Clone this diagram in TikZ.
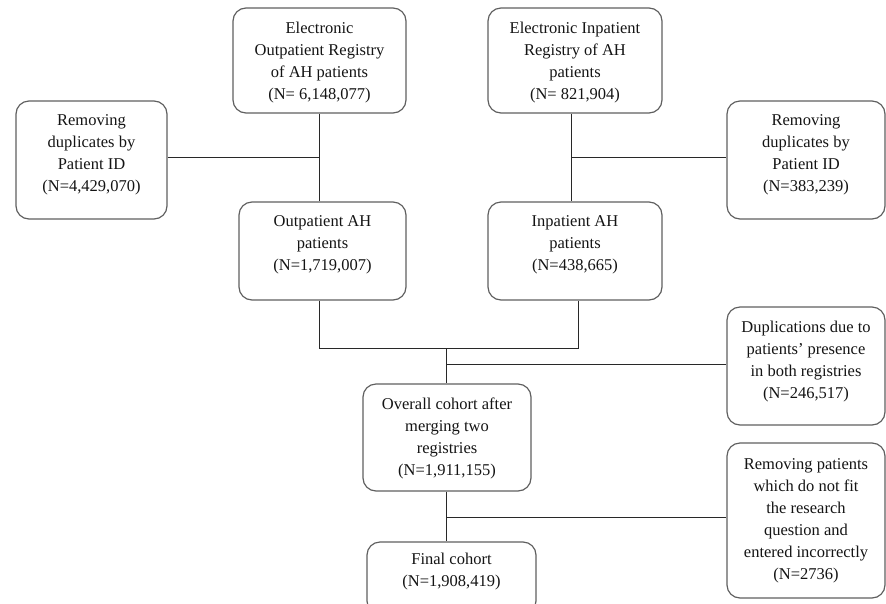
\documentclass[tikz,border=0pt]{standalone}
\usepackage{fontspec}
\setmainfont{Liberation Serif}
\definecolor{boxgray}{RGB}{96,96,96}
\definecolor{linec}{RGB}{40,40,40}
\definecolor{textc}{RGB}{20,20,20}
\begin{document}
\begin{tikzpicture}[x=1pt,y=-1pt,
 box/.style={draw=boxgray, line width=1.2pt, rounded corners=13pt, fill=white, inner sep=0},
 txt/.style={align=center, inner sep=0, anchor=north, font=\fontsize{16.5}{22}\selectfont, text=textc},
 conn/.style={draw=linec, line width=1pt}]
\useasboundingbox (0,0) rectangle (886,603);
\clip (0,0) rectangle (886,603);
% boxes
\node[box, minimum width=173pt, minimum height=105pt] (A) at (319.5,60.5) {};
\node[box, minimum width=151pt, minimum height=118pt] (B) at (91.5,160) {};
\node[box, minimum width=167pt, minimum height=98pt] (C) at (322.5,251) {};
\node[box, minimum width=174pt, minimum height=105pt] (D) at (575,60.5) {};
\node[box, minimum width=158pt, minimum height=118pt] (E) at (806,160) {};
\node[box, minimum width=174pt, minimum height=98pt] (F) at (575,251) {};
\node[box, minimum width=158pt, minimum height=118pt] (G) at (806,366) {};
\node[box, minimum width=168pt, minimum height=107pt] (H) at (447,437.5) {};
\node[box, minimum width=169pt, minimum height=72pt] (I) at (451.5,578) {};
\node[box, minimum width=158pt, minimum height=155pt] (J) at (806,520.5) {};
% texts
\node[txt] (tA) at ([yshift=-14pt]A.north) {Electronic\\Outpatient Registry\\of AH patients\\(N= 6,148,077)};
\node[txt] (tB) at ([yshift=-14pt]B.north) {Removing\\duplicates by\\Patient ID\\(N=4,429,070)};
\node[txt] (tC) at ([yshift=-14pt]C.north) {Outpatient AH\\patients\\(N=1,719,007)};
\node[txt] (tD) at ([yshift=-14pt]D.north) {Electronic Inpatient\\Registry of AH\\patients\\(N= 821,904)};
\node[txt] (tE) at ([yshift=-14pt]E.north) {Removing\\duplicates by\\Patient ID\\(N=383,239)};
\node[txt] (tF) at ([yshift=-14pt]F.north) {Inpatient AH\\patients\\(N=438,665)};
\node[txt] (tG) at ([yshift=-14pt]G.north) {Duplications due to\\patients’ presence\\in both registries\\(N=246,517)};
\node[txt] (tH) at ([yshift=-14pt]H.north) {Overall cohort after\\merging two\\registries\\(N=1,911,155)};
\node[txt] (tI) at ([yshift=-11pt]I.north) {Final cohort\\(N=1,908,419)};
\node[txt] (tJ) at ([yshift=-16pt]J.north) {Removing patients\\which do not fit\\the research\\question and\\entered incorrectly\\(N=2736)};
% connectors
\coordinate (jL) at (319,157);
\draw[conn] (jL |- A.south) -- (jL |- C.north);
\draw[conn] (B.east |- jL) -- (jL);
\coordinate (jR) at (571,157);
\draw[conn] (jR |- D.south) -- (jR |- F.north);
\draw[conn] (jR) -- (E.west |- jR);
\coordinate (mL) at (319,348);
\coordinate (mR) at (578,348);
\coordinate (mC) at (446,348);
\draw[conn] (mL |- C.south) -- (mL) -- (mR) -- (mR |- F.south);
\draw[conn] (mC) -- (mC |- H.north);
\coordinate (d1) at (446,364);
\draw[conn] (d1) -- (G.west |- d1);
\draw[conn] (mC |- H.south) -- (mC |- I.north);
\coordinate (d2) at (446,517);
\draw[conn] (d2) -- (J.west |- d2);
\end{tikzpicture}
\end{document}
